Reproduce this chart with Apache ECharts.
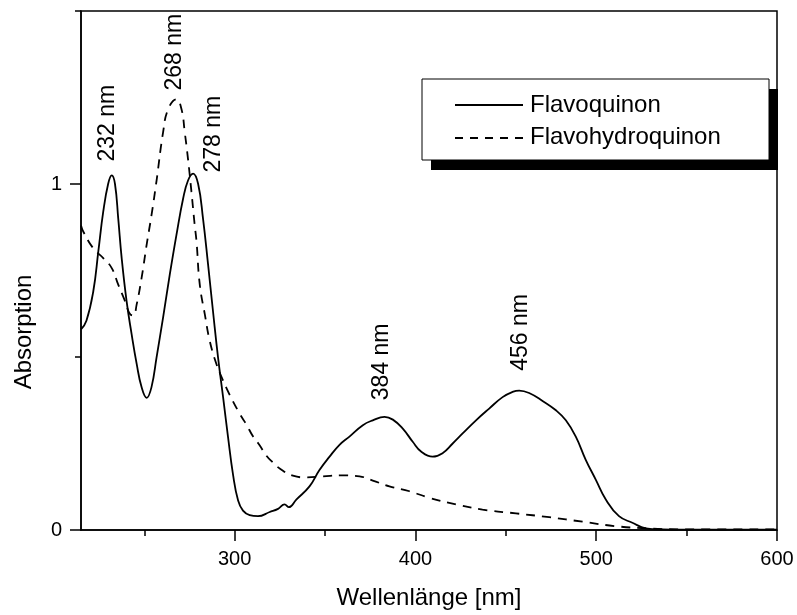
<!DOCTYPE html>
<html><head><meta charset="utf-8">
<script src="https://cdn.jsdelivr.net/npm/echarts@6/dist/echarts.min.js"></script>
<style>html,body{margin:0;padding:0;background:#fff}#c{width:797px;height:615px}</style>
</head><body><div id="c"></div>
<script>
// ---- data ----
const seriesNames = ['Flavoquinon', 'Flavohydroquinon'];
const quinonWl  = [215,218,221.8,224.6,227.3,230,232,233.8,235.6,237.5,240.2,243,245.8,248.5,251.3,254,256.8,260.4,264.1,267.8,271.5,274.2,277,279.8,282.5,285.3,288,290.8,293.6,296.3,299.1,301.9,304.6,308.3,312.9,319.4,324,327.6,330,334.1,341.4,347,352.5,358,363.5,370.9,376.4,382.9,387.5,393,398.5,403.1,409.5,415,420.6,426.1,433.5,440.8,448.2,453.7,457.4,462.9,470.3,477.7,483.2,488.7,494.2,499.8,505.3,512.6,520,527.4,536.5,560,600];
const quinonAbs = [0.58,0.605,0.69,0.806,0.92,1.0,1.025,1.0,0.90,0.786,0.662,0.566,0.48,0.413,0.382,0.413,0.499,0.614,0.738,0.853,0.958,1.01,1.03,1.0,0.90,0.767,0.633,0.499,0.384,0.27,0.16,0.085,0.056,0.043,0.040,0.052,0.061,0.074,0.066,0.088,0.126,0.174,0.212,0.246,0.27,0.303,0.317,0.327,0.319,0.293,0.255,0.227,0.212,0.222,0.25,0.279,0.317,0.351,0.384,0.399,0.403,0.396,0.373,0.346,0.317,0.27,0.203,0.145,0.088,0.040,0.021,0.005,0.002,0.001,0.001];
const hydroWl  = [215,216.3,221.8,227.3,232,235.6,239.3,242,244,245.8,248.5,251.3,254,256.8,260.4,263.2,267.8,270.6,272.4,274.2,276.1,277.9,278.9,280.7,283.5,286.2,289.9,293.6,297.3,302.8,306.5,310.2,313.8,317.5,321.2,324.9,332.2,339.6,348.8,359.8,369.1,376.4,385.6,396.7,407.7,422.5,437.1,455.6,474,492.4,510.8,527.4,546,600];
const hydroAbs = [0.88,0.862,0.814,0.786,0.757,0.709,0.662,0.625,0.62,0.652,0.728,0.824,0.91,1.01,1.149,1.216,1.245,1.216,1.149,1.072,0.977,0.881,0.834,0.709,0.623,0.547,0.48,0.432,0.39,0.336,0.305,0.27,0.245,0.215,0.195,0.178,0.157,0.152,0.155,0.158,0.155,0.143,0.126,0.112,0.093,0.074,0.059,0.048,0.037,0.024,0.011,0.005,0.002,0.002];
const xMajorTicks = [300, 400, 500, 600];
const xMinorTicks = [250, 350, 450, 550];
const yMajorTicks = [0, 1];
const yMinorTicks = [0.5, 1.5];
const peakLabels  = ['232 nm', '268 nm', '278 nm', '384 nm', '456 nm'];
const peakLabelWl  = [229.9, 266.9, 288.2, 381.2, 458.2];
const peakLabelAbs = [1.176, 1.381, 1.144, 0.486, 0.571];
const yTitle = 'Absorption';
const xTitle = 'Wellenlänge [nm]';

const FONT = "'Liberation Sans', Arial, Helvetica, sans-serif";
const chart = echarts.init(document.getElementById('c'), null, {renderer: 'canvas'});

function pairs(xs, ys) { return xs.map((x, i) => [x, ys[i]]); }

const xCommon = {type: 'value', min: 215, max: 600, gridIndex: 0, splitLine: {show: false}};
const yCommon = {type: 'value', min: 0, max: 1.5, gridIndex: 0, splitLine: {show: false}};

chart.setOption({
  animation: false,
  backgroundColor: '#fff',
  textStyle: {fontFamily: FONT},
  grid: {left: 81, right: 20, top: 11, bottom: 81, show: true, borderColor: '#000', borderWidth: 1.5, containLabel: false},
  xAxis: [
    Object.assign({}, xCommon, {
      position: 'bottom',
      axisLine: {show: true, lineStyle: {color: '#000', width: 1.5}},
      axisTick: {show: true, inside: false, length: 11, lineStyle: {color: '#000', width: 1.5}, customValues: xMajorTicks},
      axisLabel: {show: true, color: '#000', fontSize: 20, fontFamily: FONT, margin: 19, customValues: xMajorTicks},
      name: xTitle, nameLocation: 'middle', nameGap: 56,
      nameTextStyle: {color: '#000', fontSize: 24, fontFamily: FONT}
    }),
    Object.assign({}, xCommon, {
      position: 'bottom',
      axisLine: {show: false},
      axisTick: {show: true, inside: false, length: 6, lineStyle: {color: '#000', width: 1.5}, customValues: xMinorTicks},
      axisLabel: {show: false}
    })
  ],
  yAxis: [
    Object.assign({}, yCommon, {
      position: 'left',
      axisLine: {show: true, lineStyle: {color: '#000', width: 1.5}},
      axisTick: {show: true, inside: false, length: 11, lineStyle: {color: '#000', width: 1.5}, customValues: yMajorTicks},
      axisLabel: {show: true, color: '#000', fontSize: 20, fontFamily: FONT, margin: 19, customValues: yMajorTicks}
    }),
    Object.assign({}, yCommon, {
      position: 'left',
      axisLine: {show: false},
      axisTick: {show: true, inside: false, length: 6, lineStyle: {color: '#000', width: 1.5}, customValues: yMinorTicks},
      axisLabel: {show: false}
    })
  ],
  series: [
    {
      name: seriesNames[0], type: 'line', xAxisIndex: 0, yAxisIndex: 0,
      data: pairs(quinonWl, quinonAbs), showSymbol: false, symbol: 'none',
      smooth: 0.45, clip: true,
      lineStyle: {color: '#000', width: 1.8, type: 'solid'}
    },
    {
      name: seriesNames[1], type: 'line', xAxisIndex: 0, yAxisIndex: 0,
      data: pairs(hydroWl, hydroAbs), showSymbol: false, symbol: 'none',
      smooth: 0.45, clip: true,
      lineStyle: {color: '#000', width: 1.8, type: [9, 7]}
    }
  ]
});

// legend box (with hard drop shadow), y-axis title and rotated peak annotations
const graphics = [];
const lx = 422, ly = 79, lw = 347, lh = 81;
graphics.push({type: 'rect', shape: {x: lx + 9, y: ly + 10, width: lw, height: lh}, style: {fill: '#000'}, z: 100});
graphics.push({type: 'rect', shape: {x: lx, y: ly, width: lw, height: lh}, style: {fill: '#fff', stroke: '#000', lineWidth: 1}, z: 101});
graphics.push({type: 'line', shape: {x1: 455, y1: 105, x2: 523, y2: 105}, style: {stroke: '#000', lineWidth: 1.8}, z: 102});
graphics.push({type: 'line', shape: {x1: 455, y1: 138, x2: 523, y2: 138}, style: {stroke: '#000', lineWidth: 1.8, lineDash: [8, 7]}, z: 102});
graphics.push({type: 'text', x: 530, y: 105, style: {text: seriesNames[0], fill: '#000', font: '24px ' + FONT, textAlign: 'left', textVerticalAlign: 'middle'}, z: 102});
graphics.push({type: 'text', x: 530, y: 137, style: {text: seriesNames[1], fill: '#000', font: '24px ' + FONT, textAlign: 'left', textVerticalAlign: 'middle'}, z: 102});
graphics.push({type: 'text', x: 24, y: 332, rotation: Math.PI / 2,
  style: {text: yTitle, fill: '#000', font: '24px ' + FONT, textAlign: 'center', textVerticalAlign: 'middle'}, z: 102});

peakLabels.forEach((t, i) => {
  const p = chart.convertToPixel({gridIndex: 0}, [peakLabelWl[i], peakLabelAbs[i]]);
  graphics.push({type: 'text', x: p[0], y: p[1], rotation: Math.PI / 2,
    style: {text: t, fill: '#000', font: '23px ' + FONT, textAlign: 'center', textVerticalAlign: 'middle'}, z: 90});
});
chart.setOption({graphic: graphics});
</script>
</body></html>
